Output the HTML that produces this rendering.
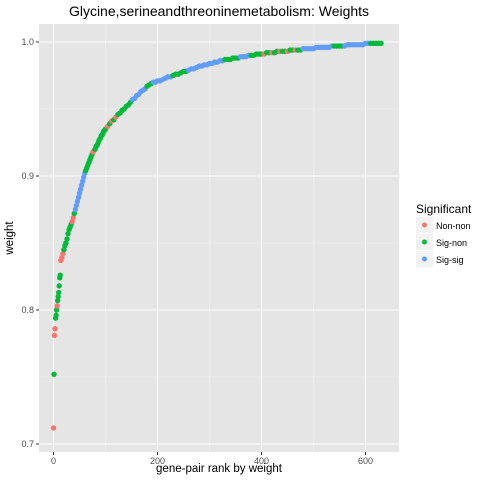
<!DOCTYPE html>
<html><head><meta charset="utf-8"><style>
body{margin:0;background:#fff;font-family:"Liberation Sans",sans-serif}
</style></head><body>
<svg id="chart" width="480" height="480" xmlns="http://www.w3.org/2000/svg" font-family="Liberation Sans, sans-serif">
<rect width="480" height="480" fill="#fff"/>
<rect x="39" y="24" width="360" height="428" fill="#e5e5e5"/>
<g id="grid"></g>
<g id="points"></g>
<g id="axes"></g>
<text x="219" y="16" font-size="14" text-anchor="middle" fill="#000">Glycine,serineandthreoninemetabolism: Weights</text>
<text x="219" y="472" font-size="11.5" text-anchor="middle">gene-pair rank by weight</text>
<text transform="translate(13,238) rotate(-90)" font-size="11.5" text-anchor="middle">weight</text>
<g>
<text x="416" y="213" font-size="12">Significant</text>
<g><rect x="416" y="217" width="17" height="16" fill="#f2f2f2"/><circle cx="424.5" cy="225" r="2.5" fill="#F8766D"/><text x="436" y="229" font-size="9" fill="#000">Non-non</text></g>
<g><rect x="416" y="234" width="17" height="16" fill="#f2f2f2"/><circle cx="424.5" cy="242" r="2.5" fill="#00BA38"/><text x="436" y="246" font-size="9" fill="#000">Sig-non</text></g>
<g><rect x="416" y="251" width="17" height="16" fill="#f2f2f2"/><circle cx="424.5" cy="259" r="2.5" fill="#619CFF"/><text x="436" y="263" font-size="9" fill="#000">Sig-sig</text></g>
</g>
</svg>
<script>
const xTicks=[0,200,400,600];
const yTicks=[0.7,0.8,0.9,1.0];
const ranks=[0,1,2,3,4,5,6,7,8,9,10,11,12,13,
14,16,18,20,22,24,26,28,30,32,34,36,38,40,42,44,46,48,50,52,54,56,58,60,62,64,66,68,70,72,74,76,78,80,82,84,86,88,90,92,94,96,98,
100,104,108,112,116,120,124,128,132,136,140,144,148,152,156,160,164,168,172,176,180,184,188,192,196,
200,205,210,215,220,225,230,235,240,245,250,255,260,265,270,275,280,285,290,295,300,305,310,315,320,325,330,335,340,345,350,355,360,365,370,375,380,385,390,395,400,405,410,415,420,425,430,435,440,445,450,455,460,465,470,475,480,485,490,495,500,505,510,515,520,525,530,535,540,545,550,555,560,565,570,575,580,585,590,595,600,605,610,615,620,625,630];
const weights=[.712,.752,.781,.786,.794,.796,.80,.803,.807,.810,.813,.818,.824,.826,
.837,.839,.842,.845,.848,.850,.853,.857,.860,.862,.864,.866,.869,.872,.875,.878,.881,.884,.887,.890,.893,.896,.899,.902,.904,.906,.908,.910,.912,.914,.916,.918,.919,.920,.922,.923,.925,.927,.928,.930,.931,.933,.934,
.935,.937,.939,.941,.942,.944,.946,.947,.949,.950,.952,.953,.955,.957,.958,.960,.961,.963,.964,.965,.967,.968,.969,.970,.970,
.971,.971,.972,.973,.974,.974,.975,.976,.976,.977,.978,.978,.979,.980,.980,.981,.982,.982,.983,.983,.984,.984,.985,.985,.986,.986,.987,.987,.987,.988,.988,.988,.989,.989,.989,.990,.990,.990,.991,.991,.991,.991,.992,.992,.992,.992,.993,.993,.993,.993,.993,.994,.994,.994,.994,.994,.995,.995,.995,.995,.995,.996,.996,.996,.996,.996,.996,.997,.997,.997,.997,.997,.997,.998,.998,.998,.998,.998,.998,.998,.999,.999,.999,.999,.999,.999,.999];
const groupStarts=[0,1,2,4,7,8,14,19,36,39,42,62,76,80,88,100,118,124,136,150,180,190,230,260,330,360,380,400,480,540,560,610];
const groupLabels=["N","S","N","S","N","S","N","S","N","S","B","S","N","S","S","S","N","S","S","B","S","B","S","B","S","B","S","S","B","S","B","S"];
const colors={N:"#F8766D",S:"#00BA38",B:"#619CFF"};
const X0=39,X1=399,Y0=24,Y1=452;
const xScale=v=>53.5+v*0.52;
const yScale=v=>444-(v-0.7)*1340;
const NS="http://www.w3.org/2000/svg";
function groupOf(r){let g="S";for(let i=0;i<groupStarts.length;i++){if(r>=groupStarts[i])g=groupLabels[i];}
if(g==="S"&&r>=400&&r<480&&(r%15===0))g="N";
if(g==="S"&&r>=100&&r<118&&(r%8===0))g="N";
return g;}
const grid=document.getElementById('grid'),pts=document.getElementById('points'),axes=document.getElementById('axes');
function line(p,x1,y1,x2,y2,c,w,n){const l=document.createElementNS(NS,'line');l.setAttribute('x1',x1);l.setAttribute('y1',y1);l.setAttribute('x2',x2);l.setAttribute('y2',y2);l.setAttribute('stroke',c);l.setAttribute('stroke-width',w);


p.appendChild(l);}
for(let i=0;i<yTicks.length-1;i++){const y=yScale((yTicks[i]+yTicks[i+1])/2);line(grid,X0,y,X1,y,'#f2f2f2',0.6,'y-minor-gridline');}
for(let i=0;i<xTicks.length;i++){const x=xScale(xTicks[i]+100);if(x<X1)line(grid,x,Y0,x,Y1,'#f2f2f2',0.6,'x-minor-gridline');}
yTicks.forEach(v=>{const y=yScale(v);line(grid,X0,y,X1,y,'#fff',1.1,'y-major-gridline');line(axes,X0-3,y,X0,y,'#333',1,'y-tick');
const t=document.createElementNS(NS,'text');t.setAttribute('x',X0-5);t.setAttribute('y',y+3);t.setAttribute('font-size','9');t.setAttribute('fill','#4d4d4d');t.setAttribute('text-anchor','end');t.textContent=v.toFixed(1);


axes.appendChild(t);});
xTicks.forEach(v=>{const x=xScale(v);line(grid,x,Y0,x,Y1,'#fff',1.1,'x-major-gridline');line(axes,x,Y1,x,Y1+3,'#333',1,'x-tick');
const t=document.createElementNS(NS,'text');t.setAttribute('x',x);t.setAttribute('y',Y1+12);t.setAttribute('font-size','9');t.setAttribute('fill','#4d4d4d');t.setAttribute('text-anchor','middle');t.textContent=v;


axes.appendChild(t);});
ranks.forEach((r,i)=>{const c=document.createElementNS(NS,'circle');c.setAttribute('cx',xScale(r));c.setAttribute('cy',yScale(weights[i]));c.setAttribute('r',2.7);c.setAttribute('fill',colors[groupOf(r)]);


pts.appendChild(c);});
</script>
</body></html>
